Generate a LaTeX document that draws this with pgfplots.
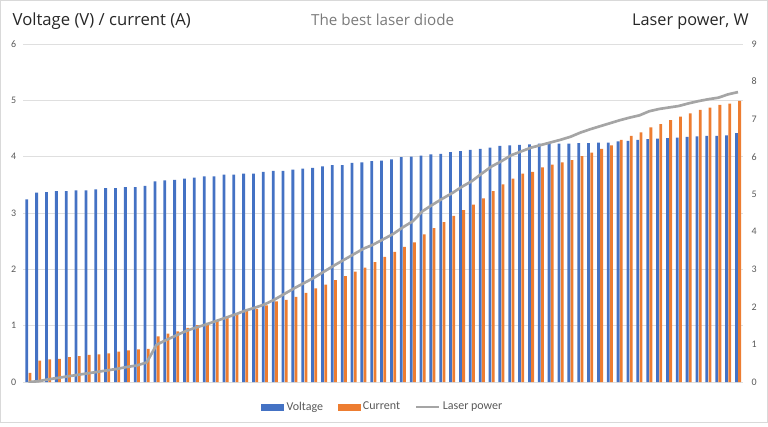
\documentclass[border=0pt]{standalone}
\usepackage{pgfplots}
\usepackage{pgfplotstable}
\pgfplotsset{compat=1.18}
\usepackage{fontspec}
\setmainfont{Carlito}
\newfontfamily\titlefont{Open Sans}
\definecolor{vblue}{HTML}{4472C4}
\definecolor{corange}{HTML}{ED7D31}
\definecolor{pgray}{HTML}{A5A5A5}
\definecolor{tgray}{HTML}{595959}

% i = sample, V = voltage, I = current, P = laser power (W)
\pgfplotstableread{
i V I P
0 3.24 0.16 0.00
1 3.36 0.38 0.02
2 3.37 0.40 0.07
3 3.39 0.41 0.11
4 3.39 0.44 0.15
5 3.40 0.46 0.19
6 3.40 0.48 0.23
7 3.42 0.49 0.27
8 3.44 0.51 0.31
9 3.44 0.54 0.35
10 3.46 0.56 0.40
11 3.46 0.58 0.44
12 3.48 0.59 0.52
13 3.56 0.81 0.99
14 3.58 0.86 1.12
15 3.59 0.90 1.24
16 3.61 0.96 1.36
17 3.63 1.01 1.45
18 3.65 1.05 1.53
19 3.65 1.08 1.62
20 3.68 1.15 1.71
21 3.68 1.20 1.80
22 3.70 1.27 1.90
23 3.70 1.30 1.98
24 3.73 1.36 2.07
25 3.75 1.43 2.20
26 3.75 1.46 2.35
27 3.77 1.51 2.50
28 3.79 1.58 2.64
29 3.80 1.66 2.78
30 3.83 1.73 2.94
31 3.85 1.81 3.10
32 3.85 1.88 3.25
33 3.89 1.96 3.40
34 3.90 2.03 3.55
35 3.92 2.13 3.66
36 3.93 2.22 3.80
37 3.95 2.31 3.94
38 3.99 2.40 4.12
39 4.00 2.48 4.28
40 4.02 2.62 4.55
41 4.04 2.73 4.72
42 4.05 2.84 4.88
43 4.08 2.95 5.03
44 4.10 3.05 5.20
45 4.12 3.15 5.35
46 4.14 3.26 5.55
47 4.16 3.39 5.74
48 4.19 3.51 5.88
49 4.20 3.61 6.04
50 4.21 3.70 6.14
51 4.22 3.73 6.24
52 4.23 3.81 6.31
53 4.23 3.86 6.38
54 4.23 3.90 6.45
55 4.23 3.94 6.53
56 4.24 4.01 6.64
57 4.24 4.07 6.73
58 4.25 4.14 6.81
59 4.25 4.20 6.89
60 4.27 4.30 6.97
61 4.28 4.37 7.04
62 4.30 4.43 7.10
63 4.31 4.52 7.21
64 4.32 4.58 7.27
65 4.33 4.65 7.31
66 4.34 4.71 7.35
67 4.35 4.77 7.42
68 4.36 4.83 7.48
69 4.37 4.87 7.53
70 4.37 4.92 7.57
71 4.38 4.94 7.66
72 4.42 4.99 7.72
}\data

\pgfplotsset{
  base/.style={
    at={(17.6pt,33pt)}, anchor=south west,
    width=539.6pt, height=253.5pt, scale only axis,
    xmin=-0.5, xmax=72.5, xtick=\empty,
    axis line style={draw=none}, major tick length=0pt,
    /pgf/number format/assume math mode=true,
    yticklabel style={font=\fontsize{7.5}{9}\selectfont, text=tgray},
  },
  barleg/.style={legend image code/.code={
    \fill[#1] (0pt,-2.3pt) rectangle (16.5pt,2.3pt);}},
}

\begin{document}
\begin{tikzpicture}
\useasboundingbox (0,0) rectangle (576pt,319.5pt);
\draw[gray!30, line width=0.75pt] (0.4pt,2.5pt) rectangle (575.6pt,319.1pt);

\begin{axis}[base,
  ymin=0, ymax=6, ytick distance=1,
  ymajorgrids, grid style={draw=gray!25, line width=0.6pt},
  yticklabel style={xshift=-2pt},
  ybar=0.3pt, bar width=2.1pt]
\addplot[fill=vblue, draw=none] table[x=i, y=V] {\data};
\addplot[fill=corange, draw=none] table[x=i, y=I] {\data};
\end{axis}

\begin{axis}[base,
  ymin=0, ymax=9, ytick distance=1,
  axis y line*=right, axis x line=none,
  yticklabel style={xshift=3pt},
  legend style={at={(0.5,-0.074)}, anchor=center, draw=none,
    fill=none, legend columns=3,
    font=\fontsize{9}{10}\selectfont, text=tgray,
    /tikz/every even column/.append style={column sep=9pt}},
  legend cell align=left]
\addlegendimage{barleg=vblue}
\addlegendentry{Voltage}
\addlegendimage{barleg=corange}
\addlegendentry{Current}
\addplot[pgray, line width=2pt, line join=round] table[x=i, y=P] {\data};
\addlegendentry{Laser power}
\end{axis}

\node[anchor=base west, font=\titlefont\fontsize{12.5}{14}\selectfont, text=black!85]
  at (6pt,300pt) {Voltage (V) / current (A)};
\node[anchor=base, font=\titlefont\fontsize{11.4}{13}\selectfont, text=tgray!80]
  at (287pt,300pt) {The best laser diode};
\node[anchor=base east, font=\titlefont\fontsize{12.2}{14}\selectfont, text=black!85]
  at (565pt,300pt) {Laser power, W};
\end{tikzpicture}
\end{document}
